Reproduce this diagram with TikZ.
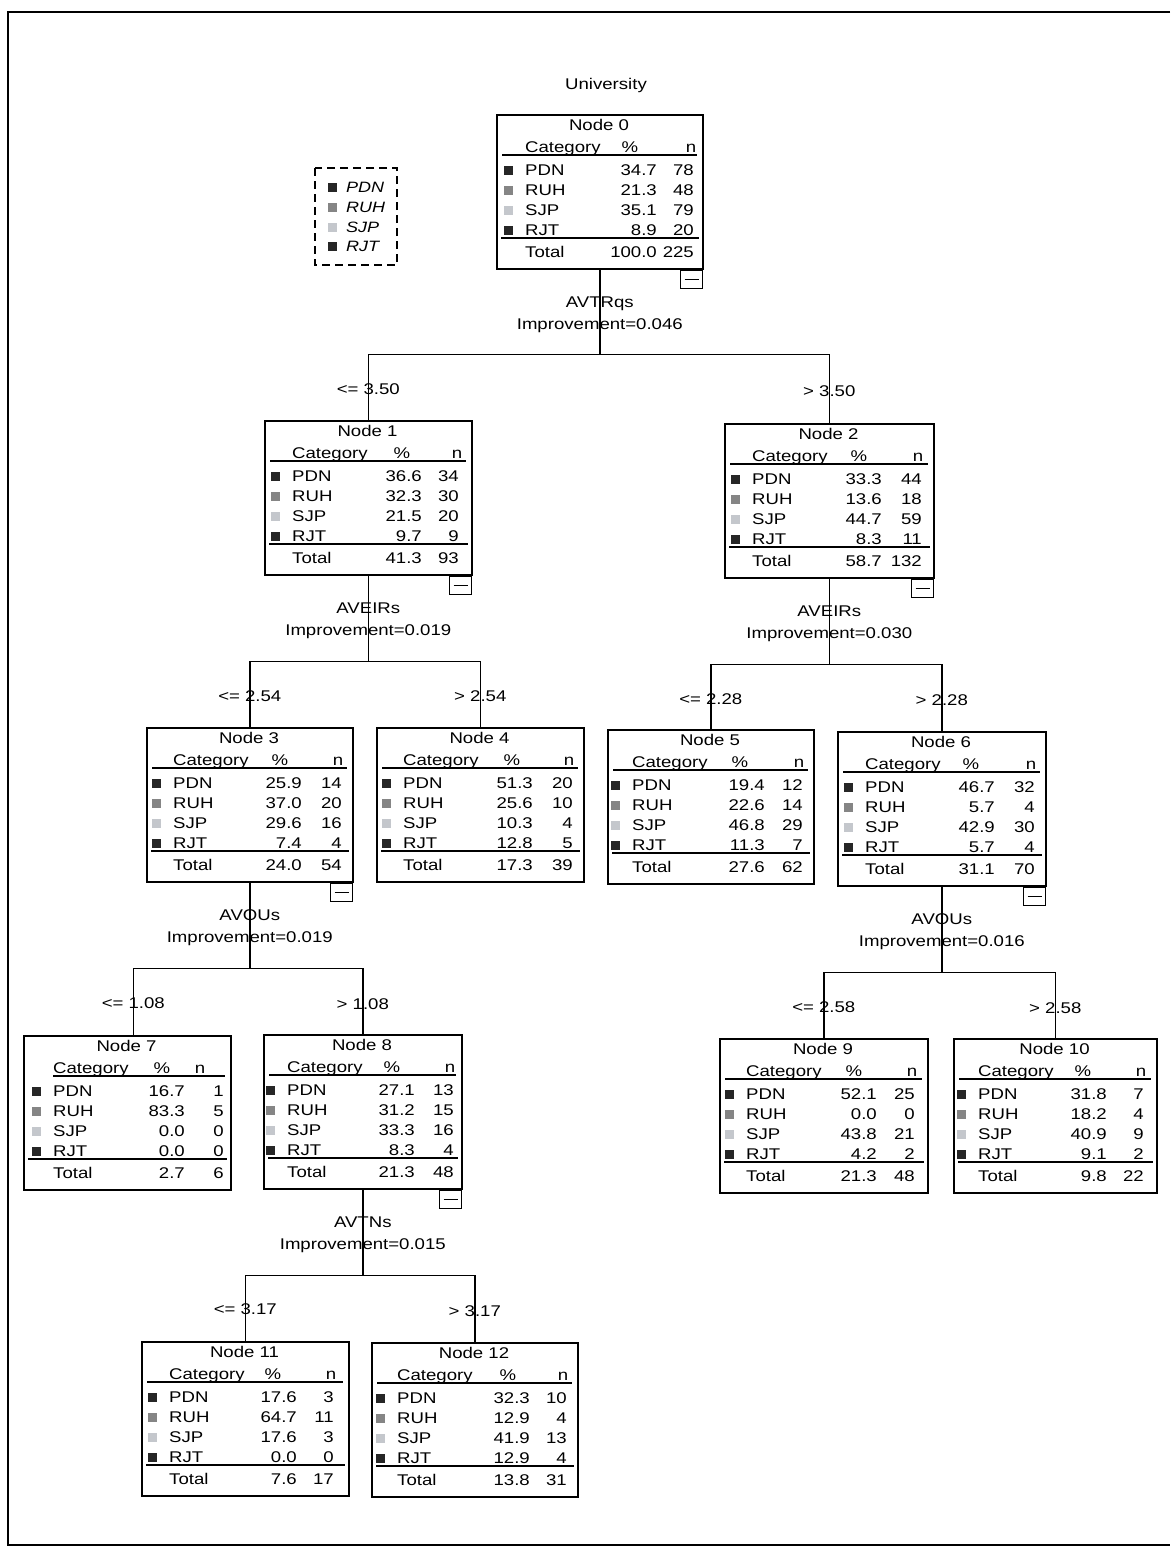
\documentclass[tikz,border=0pt]{standalone}
\usepackage{fontspec}
\setmainfont[FakeStretch=1.2]{Liberation Sans}
\usetikzlibrary{calc}
\definecolor{cA}{HTML}{262626}
\definecolor{cB}{HTML}{858585}
\definecolor{cC}{HTML}{C4C7CC}
\tikzset{
  box/.style={draw, line width=1.6pt, inner sep=0pt, rectangle},
  conn/.style={line width=1.4pt},
  txt/.style={inner sep=0pt, font=\fontsize{15.5}{18}\selectfont},
  lbl/.style={txt, anchor=base},
  ul/.style={line width=1.7pt},
  legtxt/.style={inner sep=0pt, anchor=base west, font=\fontsize{15}{18}\selectfont\itshape},
}
\newcommand\ulA{6}
% #1 name, #2 L/T/W/nameleft/pctright/nright/hdrpct/hdrn, #3 number, #4 rows p/n x4, #5 total pct, #6 total n
\newcommand\tnode[6]{%
  \foreach \L/\T/\W/\nl/\pr/\nr/\hp/\hn in {#2}{%
    \node[box, minimum width=\W pt, minimum height=154pt, anchor=north west] (#1) at (\L,\T) {};
    \node[lbl] at (\L+\W/2,\T+16.5) {Node #3};
    \node[txt, anchor=base west] at (\L+\nl,\T+38.5) {Category};
    \node[lbl] at (\L+\hp,\T+38.5) {\%};
    \node[lbl] at (\L+\hn,\T+38.5) {n};
    \draw[ul] (\L+\ulA,\T+41) -- (\L+\W-5,\T+41);
    \foreach \p/\n [count=\i] in {#4}{%
      \ifcase\i\or\def\nm{PDN}\def\col{cA}\or\def\nm{RUH}\def\col{cB}\or\def\nm{SJP}\def\col{cC}\or\def\nm{RJT}\def\col{cA}\fi
      \pgfmathsetmacro\yy{36+20*\i}
      \fill[fill=\col] (\L+\nl-21,\T+\yy-4) rectangle ++(9,8.5);
      \node[txt, anchor=base west] at (\L+\nl,\T+\yy+5.5) {\nm};
      \node[txt, anchor=base east] at (\L+\pr,\T+\yy+5.5) {\p};
      \node[txt, anchor=base east] at (\L+\nr,\T+\yy+5.5) {\n};
    }
    \draw[ul] (\L+5,\T+124) -- (\L+\W-3,\T+124);
    \node[txt, anchor=base west] at (\L+\nl,\T+143.5) {Total};
    \node[txt, anchor=base east] at (\L+\pr,\T+143.5) {#5};
    \node[txt, anchor=base east] at (\L+\nr,\T+143.5) {#6};
  }%
}
\newcommand\collapse[1]{%
  \draw[line width=1.3pt] ($(#1.south east)+(-23,1)$) rectangle ($(#1.south east)+(-1,19)$);
  \draw[line width=1.3pt] ($(#1.south east)+(-19,10)$) -- ($(#1.south east)+(-5,10)$);
}
\begin{document}
\begin{tikzpicture}[x=1pt,y=-1pt]
\useasboundingbox (0,0) rectangle (1170,1552);
\fill[white] (0,0) rectangle (1170,1552);
% page frame
\draw[line width=1.5pt] (1170,12) -- (8,12) -- (8,1545) -- (1170,1545);

\node[lbl] (title) at (606,89.5) {University};

% legend
\draw[line width=1.4pt, dash pattern=on 8pt off 5pt] (315,168) rectangle (397,265);
\foreach \nm/\col/\y in {PDN/cA/187,RUH/cB/207,SJP/cC/227,RJT/cA/246}{
  \fill[fill=\col] (328,\y-4) rectangle ++(8.5,8.5);
  \node[legtxt] at (346,\y+5.5) {\nm};
}

% nodes
\tnode{n0}{496/114/206/29/161/198/134/195}{0}{34.7/78,21.3/48,35.1/79,8.9/20}{100.0}{225}
\tnode{n1}{264/420/207/28/158/195/138/193}{1}{36.6/34,32.3/30,21.5/20,9.7/9}{41.3}{93}
\tnode{n2}{724/423/209/28/158/198/135/194}{2}{33.3/44,13.6/18,44.7/59,8.3/11}{58.7}{132}
\tnode{n3}{146/727/206/27/156/196/134/192}{3}{25.9/14,37.0/20,29.6/16,7.4/4}{24.0}{54}
\tnode{n4}{376/727/207/27/157/197/136/193}{4}{51.3/20,25.6/10,10.3/4,12.8/5}{17.3}{39}
\tnode{n5}{607/729/206/25/158/196/133/192}{5}{19.4/12,22.6/14,46.8/29,11.3/7}{27.6}{62}
\tnode{n6}{837/731/208/28/158/198/134/194}{6}{46.7/32,5.7/4,42.9/30,5.7/4}{31.1}{70}
{\renewcommand\ulA{30}%
\tnode{n7}{23/1035/207/30/162/201/139/177}{7}{16.7/1,83.3/5,0.0/0,0.0/0}{2.7}{6}}
\tnode{n8}{263/1034/198/24/152/191/129/187}{8}{27.1/13,31.2/15,33.3/16,8.3/4}{21.3}{48}
\tnode{n9}{719/1038/208/27/158/196/135/193}{9}{52.1/25,0.0/0,43.8/21,4.2/2}{21.3}{48}
\tnode{n10}{953/1038/203/25/154/191/130/188}{10}{31.8/7,18.2/4,40.9/9,9.1/2}{9.8}{22}
\tnode{n11}{141/1341/207/28/156/193/132/190}{11}{17.6/3,64.7/11,17.6/3,0.0/0}{7.6}{17}
\tnode{n12}{371/1342/206/26/159/196/137/192}{12}{32.3/10,12.9/4,41.9/13,12.9/4}{13.8}{31}

\collapse{n0}\collapse{n1}\collapse{n2}\collapse{n3}\collapse{n6}\collapse{n8}

% split 0
\coordinate (b0) at ($(n0.south)+(0,85)$);
\draw[conn] (n0.south) -- (b0);
\draw[conn] (n1.north) |- (b0) -| (n2.north);
\node[lbl] at ($(n0.south)+(0,37.5)$) {AVTRqs};
\node[lbl] at ($(n0.south)+(0,59.5)$) {Improvement=0.046};
\node[lbl] at ($(n1.north |- b0)+(0,39.5)$) {<= 3.50};
\node[lbl] at ($(n2.north |- b0)+(0,41.5)$) {> 3.50};

% split 1
\coordinate (b1) at ($(n1.south)+(0,86)$);
\draw[conn] (n1.south) -- (b1);
\draw[conn] (n3.north) |- (b1) -| (n4.north);
\node[lbl] at ($(n1.south)+(0,37.5)$) {AVEIRs};
\node[lbl] at ($(n1.south)+(0,59.5)$) {Improvement=0.019};
\node[lbl] at ($(n3.north |- b1)+(0,39.5)$) {<= 2.54};
\node[lbl] at ($(n4.north |- b1)+(0,39.5)$) {> 2.54};

% split 2
\coordinate (b2) at ($(n2.south)+(0,86)$);
\draw[conn] (n2.south) -- (b2);
\draw[conn] (n5.north) |- (b2) -| (n6.north);
\node[lbl] at ($(n2.south)+(0,37.5)$) {AVEIRs};
\node[lbl] at ($(n2.south)+(0,59.5)$) {Improvement=0.030};
\node[lbl] at ($(n5.north |- b2)+(0,39.5)$) {<= 2.28};
\node[lbl] at ($(n6.north |- b2)+(0,40.5)$) {> 2.28};

% split 3
\coordinate (t7) at ($(n7.north)+(6,0)$);
\coordinate (b3) at ($(n3.south)+(0,86)$);
\draw[conn] (n3.south) -- (b3);
\draw[conn] (t7) |- (b3) -| (n8.north);
\node[lbl] at ($(n3.south)+(0,37.5)$) {AVOUs};
\node[lbl] at ($(n3.south)+(0,59.5)$) {Improvement=0.019};
\node[lbl] at ($(t7 |- b3)+(0,39.5)$) {<= 1.08};
\node[lbl] at ($(n8.north |- b3)+(0,40.5)$) {> 1.08};

% split 6
\coordinate (b6) at ($(n6.south)+(0,86)$);
\draw[conn] (n6.south) -- (b6);
\draw[conn] (n9.north) |- (b6) -| (n10.north);
\node[lbl] at ($(n6.south)+(0,37.5)$) {AVOUs};
\node[lbl] at ($(n6.south)+(0,59.5)$) {Improvement=0.016};
\node[lbl] at ($(n9.north |- b6)+(0,39.5)$) {<= 2.58};
\node[lbl] at ($(n10.north |- b6)+(0,40.5)$) {> 2.58};

% split 8
\coordinate (b8) at ($(n8.south)+(0,86)$);
\draw[conn] (n8.south) -- (b8);
\draw[conn] (n11.north) |- (b8) -| (n12.north);
\node[lbl] at ($(n8.south)+(0,37.5)$) {AVTNs};
\node[lbl] at ($(n8.south)+(0,59.5)$) {Improvement=0.015};
\node[lbl] at ($(n11.north |- b8)+(0,38.5)$) {<= 3.17};
\node[lbl] at ($(n12.north |- b8)+(0,40.5)$) {> 3.17};
\end{tikzpicture}
\end{document}
